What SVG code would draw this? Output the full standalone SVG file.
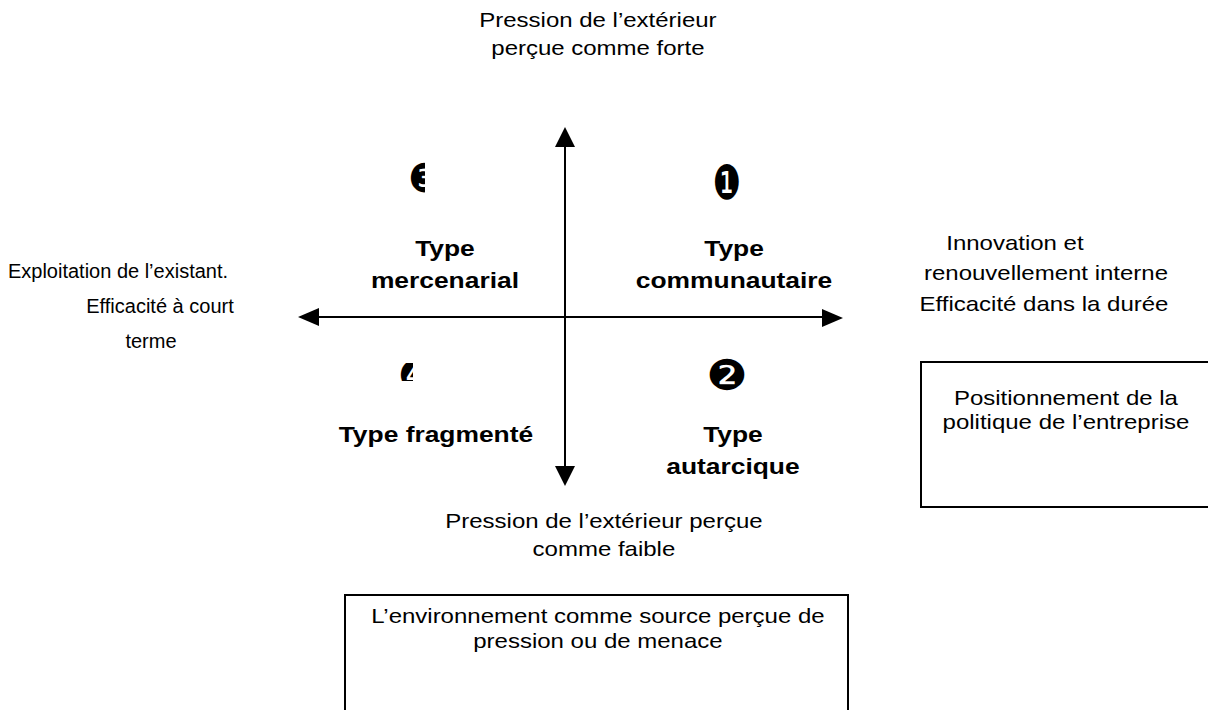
<svg xmlns="http://www.w3.org/2000/svg" width="1208" height="710" viewBox="0 0 1208 710">
<style>
.t{font-family:"Liberation Sans",Arial,sans-serif;font-size:20px;fill:#000;text-anchor:middle}
.b{font-family:"Liberation Sans",Arial,sans-serif;font-size:22px;font-weight:bold;fill:#000;text-anchor:middle}
.m{font-family:"DejaVu Sans",sans-serif;font-size:44px;fill:#000;text-anchor:middle}
.box{fill:#fff;stroke:#000;stroke-width:2}
.ax{stroke:#000;stroke-width:2;fill:none}
</style>
<defs>
<clipPath id="c3"><rect x="400" y="150" width="25" height="50"/></clipPath>
<clipPath id="c4"><rect x="395" y="363" width="18" height="18"/></clipPath>
</defs>
<rect width="1208" height="710" fill="#fff"/>
<g id="connectors">
<line class="ax" x1="565" y1="145" x2="565" y2="468"/>
<path d="M565,127 L555,147 L575,147 z" fill="#000"/>
<path d="M565,486 L555,466 L575,466 z" fill="#000"/>
<line class="ax" x1="318" y1="317" x2="824" y2="317"/>
<path d="M298,317 L319,308 L319,326 z" fill="#000"/>
<path d="M843,318 L822,309 L822,327 z" fill="#000"/>
</g>
<g id="left-label"><text class="t" x="118" y="278">Exploitation de l’existant.</text><text class="t" x="160" y="313">Efficacité à court</text><text class="t" x="151" y="348">terme</text></g>
<g transform="scale(1.2,1)">
<g id="top-label"><text class="t" x="498.3" y="27">Pression de l’extérieur</text><text class="t" x="498.3" y="55">perçue comme forte</text></g>
<g id="bottom-label"><text class="t" x="503.3" y="528">Pression de l’extérieur perçue</text><text class="t" x="503.3" y="556">comme faible</text></g>
<g id="right-label"><text class="t" x="845.8" y="250">Innovation et</text><text class="t" x="871.7" y="280">renouvellement interne</text><text class="t" x="870" y="311">Efficacité dans la durée</text></g>
<g id="q3"><text class="b" x="370.8" y="256">Type</text><text class="b" x="370.8" y="288">mercenarial</text></g>
<g id="q1"><text class="b" x="611.7" y="256">Type</text><text class="b" x="611.7" y="288">communautaire</text></g>
<g id="q4"><text class="b" x="363.3" y="442">Type fragmenté</text></g>
<g id="q2"><text class="b" x="610.8" y="442">Type</text><text class="b" x="610.8" y="474">autarcique</text></g>
</g>
<g id="markers">
<text class="m" transform="translate(727,199) scale(0.72,1.08)">❶</text>
<text class="m" transform="translate(727,390) scale(1.05,0.97)">❷</text>
<g clip-path="url(#c3)"><text class="m" transform="translate(424,192) scale(0.8,0.9)">❸</text></g>
<g clip-path="url(#c4)"><text class="m" transform="translate(414,389) scale(0.8,0.9)">❹</text></g>
</g>
<g id="box-politique">
<rect class="box" x="921" y="362" width="300" height="145"/>
<g transform="scale(1.2,1)"><text class="t" x="888.3" y="405">Positionnement de la</text><text class="t" x="888.3" y="429">politique de l’entreprise</text></g>
</g>
<g id="box-environnement">
<rect class="box" x="345" y="595" width="503" height="130"/>
<g transform="scale(1.2,1)"><text class="t" x="498.3" y="623">L’environnement comme source perçue de</text><text class="t" x="498.3" y="648">pression ou de menace</text></g>
</g>
</svg>
